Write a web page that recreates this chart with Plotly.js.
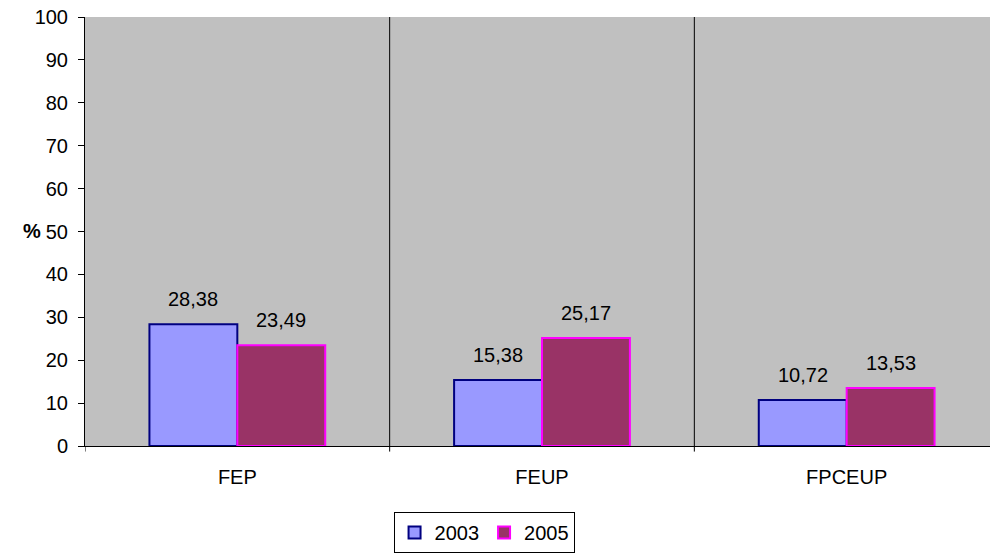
<!DOCTYPE html>
<html>
<head>
<meta charset="utf-8">
<script src="https://cdn.plot.ly/plotly-3.0.1.min.js"></script>
<style>
html,body{margin:0;padding:0;overflow:hidden;background:#fff;}
#chart{width:1000px;height:553px;}
</style>
</head>
<body>
<div id="chart"></div>
<script>
const categories = ['FEP', 'FEUP', 'FPCEUP'];
const series2003 = [28.38, 15.38, 10.72];
const series2005 = [23.49, 25.17, 13.53];
const seriesNames = ['2003', '2005'];
const yTicks = [0, 10, 20, 30, 40, 50, 60, 70, 80, 90, 100];

const FONT = 'Liberation Sans, Arial, sans-serif';
const FS = 20;

const traces = [
  {
    type: 'bar', name: seriesNames[0], x: categories, y: series2003,
    marker: {color: '#9999FF', line: {color: '#000080', width: 2}}
  },
  {
    type: 'bar', name: seriesNames[1], x: categories, y: series2005,
    marker: {color: '#993366', line: {color: '#FF00FF', width: 2}}
  }
];

function fmt(v){ return v.toFixed(2).replace('.', ','); }

const annotations = [];
categories.forEach((c, i) => {
  annotations.push({x: c, y: series2003[i], xref: 'x', yref: 'y', text: fmt(series2003[i]),
    showarrow: false, xshift: -44, yshift: 25, font: {family: FONT, size: FS, color: '#000'}});
  annotations.push({x: c, y: series2005[i], xref: 'x', yref: 'y', text: fmt(series2005[i]),
    showarrow: false, xshift: 44, yshift: 25, font: {family: FONT, size: FS, color: '#000'}});
});
annotations.push({xref: 'paper', yref: 'paper', x: 0, y: 0.501, xshift: -64.5, text: '<b>%</b>',
  showarrow: false, font: {family: FONT, size: FS, color: '#000'}});

const shapes = [];
const bounds = [];
for (let i = 0; i <= categories.length; i++) bounds.push(i - 0.5);
bounds.forEach((b, i) => {
  if (i > 0 && i < bounds.length - 1) {
    shapes.push({type: 'line', xref: 'x', yref: 'paper', x0: b, x1: b, y0: 0, y1: 1,
      line: {color: '#000', width: 1}, layer: 'below'});
  }
  shapes.push({type: 'line', xref: 'x', yref: 'paper', x0: b, x1: b, y0: 0, y1: -0.013,
    line: {color: '#000', width: 1}});
});

const layout = {
  width: 1000, height: 553,
  margin: {l: 84.5, r: 0.5, t: 17.3, b: 104.7, pad: 0},
  paper_bgcolor: '#ffffff',
  plot_bgcolor: '#C0C0C0',
  separators: ', ',
  font: {family: FONT, size: FS, color: '#000'},
  barmode: 'group',
  bargap: 0.423,
  bargroupgap: 0,
  showlegend: true,
  legend: {
    orientation: 'h', x: 0.4366, y: -0.202, xanchor: 'center', yanchor: 'middle',
    bordercolor: '#000', borderwidth: 1, bgcolor: '#fff',
    font: {family: FONT, size: FS, color: '#000'},
    itemwidth: 30, tracegroupgap: 0
  },
  xaxis: {
    type: 'category', range: [-0.5, 2.5], showgrid: false, zeroline: false,
    showline: true, linecolor: '#000', linewidth: 1,
    ticks: '', ticklabelstandoff: 13,
    tickfont: {family: FONT, size: FS, color: '#000'}
  },
  yaxis: {
    range: [0, 100], tickvals: yTicks, showgrid: false, zeroline: false,
    showline: true, linecolor: '#000', linewidth: 1,
    ticks: 'outside', ticklen: 6, tickcolor: '#000', ticklabelstandoff: 6,
    tickfont: {family: FONT, size: FS, color: '#000'}
  },
  annotations: annotations,
  shapes: shapes
};

Plotly.newPlot('chart', traces, layout, {displayModeBar: false, staticPlot: true});
</script>
</body>
</html>
